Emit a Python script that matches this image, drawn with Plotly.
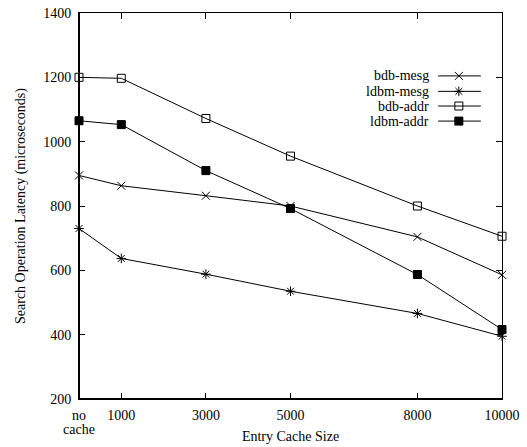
import plotly.graph_objects as go

cache_sizes = [0, 1000, 3000, 5000, 8000, 10000]
x_tick_labels = ["no", "1000", "3000", "5000", "8000", "10000"]
y_ticks = [200, 400, 600, 800, 1000, 1200, 1400]

bdb_mesg = [895, 863, 832, 800, 704, 586]
ldbm_mesg = [730, 637, 588, 535, 466, 395]
bdb_addr = [1200, 1197, 1072, 955, 800, 706]
ldbm_addr = [1065, 1053, 910, 792, 587, 416]

series_names = ["bdb-mesg", "ldbm-mesg", "bdb-addr", "ldbm-addr"]
series_values = [bdb_mesg, ldbm_mesg, bdb_addr, ldbm_addr]
symbols = ["x-thin-open", "asterisk-open", "square-open", "square"]
sizes = [8, 8, 8, 8]

FONT = "Liberation Serif, Times New Roman, serif"

fig = go.Figure()
for name, vals, sym, sz in zip(series_names, series_values, symbols, sizes):
    fig.add_trace(go.Scatter(
        x=cache_sizes, y=vals, mode="lines+markers", name=name,
        line=dict(color="black", width=1),
        marker=dict(symbol=sym, size=sz, color="black",
                    line=dict(color="black", width=1)),
        showlegend=False, cliponaxis=False,
    ))

# custom legend (text left, sample right) on an overlay axis in [0,1]
leg_y = [0.837, 0.797, 0.759, 0.720]
for name, sym, sz, ly in zip(series_names, symbols, sizes, leg_y):
    fig.add_trace(go.Scatter(
        x=[0.849, 0.950], y=[ly, ly], mode="lines", xaxis="x3", yaxis="y3",
        line=dict(color="black", width=1), showlegend=False, hoverinfo="skip"))
    fig.add_trace(go.Scatter(
        x=[0.898], y=[ly], mode="markers", xaxis="x3", yaxis="y3",
        marker=dict(symbol=sym, size=sz, color="black",
                    line=dict(color="black", width=1)),
        showlegend=False, hoverinfo="skip"))
    fig.add_annotation(x=0.832, y=ly, xref="x3", yref="y3", text=name,
                       showarrow=False, xanchor="right", yanchor="middle",
                       font=dict(family=FONT, size=14, color="black"))

# second line of the "no cache" tick label
fig.add_annotation(x=0, y=-0.079, xref="x", yref="paper", text="cache",
                   showarrow=False, xanchor="center", yanchor="middle",
                   font=dict(family=FONT, size=14, color="black"))

axis_common = dict(showgrid=False, zeroline=False, showline=True,
                   linecolor="black", linewidth=1, mirror="ticks",
                   ticks="inside", ticklen=6, tickcolor="black", tickwidth=1,
                   automargin=False,
                   tickfont=dict(family=FONT, size=14, color="black"))

fig.update_layout(
    template="none",
    width=527, height=447,
    margin=dict(l=79, r=25, t=13, b=48),
    paper_bgcolor="white", plot_bgcolor="white",
    font=dict(family=FONT, size=14, color="black"),
    xaxis=dict(range=[0, 10000], tickvals=cache_sizes, ticktext=x_tick_labels,
               ticklabelstandoff=3,
               title=dict(text="Entry Cache Size", standoff=9,
                          font=dict(family=FONT, size=14)),
               **axis_common),
    yaxis=dict(range=[200, 1400], tickvals=y_ticks,
               ticklabelstandoff=4,
               title=dict(text="Search Operation Latency (microseconds)",
                          standoff=14, font=dict(family=FONT, size=14)),
               **axis_common),
    xaxis3=dict(overlaying="x", anchor="y3", range=[0, 1], visible=False,
                fixedrange=True, automargin=False),
    yaxis3=dict(overlaying="y", anchor="x3", range=[0, 1], visible=False,
                fixedrange=True, automargin=False),
    shapes=[
        dict(type="line", xref="paper", yref="paper", x0=0, x1=0, y0=0, y1=1,
             line=dict(color="black", width=2)),
        dict(type="line", xref="paper", yref="paper", x0=0, x1=1, y0=0, y1=0,
             line=dict(color="black", width=2)),
    ],
)

fig.write_html("out.html",
               config={"displayModeBar": False},
               post_script="document.body.style.margin='0px';"
                           "document.body.style.overflow='hidden';")
